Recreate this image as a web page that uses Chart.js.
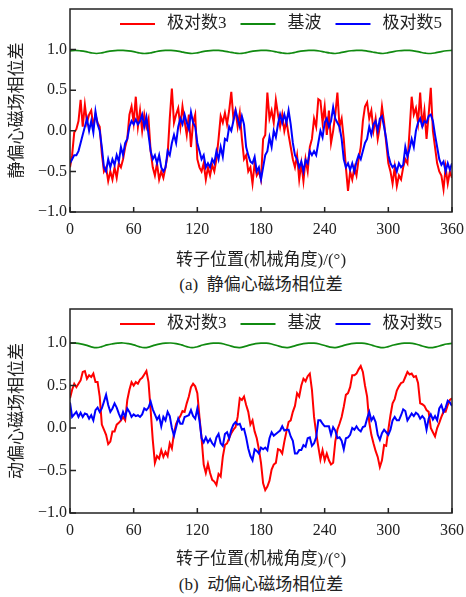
<!DOCTYPE html>
<html>
<head>
<meta charset="utf-8">
<script src="https://cdn.jsdelivr.net/npm/chart.js@4.4.1/dist/chart.umd.min.js"></script>
<style>
  body { margin: 0; background: #fff; }
  #wrap { position: relative; width: 466px; height: 597px; }
  canvas { position: absolute; left: 0; }
  .cap {
    position: absolute; left: 70px; width: 382px; text-align: center;
    font: 17px "Liberation Serif", "Noto Sans CJK SC"; color: #222; line-height: 22px;
  }
</style>
</head>
<body>
<div id="wrap">
  <canvas id="chartA" width="466" height="270" style="top:0"></canvas>
  <div class="cap" style="top:274px">(a)&nbsp; 静偏心磁场相位差</div>
  <canvas id="chartB" width="466" height="272" style="top:299px"></canvas>
  <div class="cap" style="top:574px">(b)&nbsp; 动偏心磁场相位差</div>
</div>
<script>
// rotor angle grids (deg): harmonics sampled every 2°, fundamental every 5°
const angles = [];
for (let a = 0; a <= 360; a += 2) angles.push(a);
const fundAngles = [];
for (let a = 0; a <= 360; a += 5) fundAngles.push(a);

const xTicks = [0, 60, 120, 180, 240, 300, 360];
const yTicks = [-1.0, -0.5, 0.0, 0.5, 1.0];
const seriesNames = ['极对数3', '基波', '极对数5'];

// (a) static eccentricity
const staticPole3 = [
  -0.45, -0.3, -0.02, 0.02, 0.12, 0.38, 0.05, 0.32, 0.1, 0.2,
  0.25, 0.05, 0.2, 0.1, 0.05, -0.28, -0.5, -0.45, -0.62, -0.5,
  -0.6, -0.45, -0.58, -0.4, -0.45, -0.35, -0.2, -0.1, 0.2, 0.3,
  0.1, 0.42, 0.05, 0.25, 0.0, 0.2, 0.05, 0.15, -0.25, -0.45,
  -0.55, -0.4, -0.6, -0.5, -0.58, -0.45, -0.3, 0.15, 0.52, 0.1,
  0.2, 0.28, 0.05, 0.3, 0.12, -0.05, 0.2, -0.2, 0.1, 0.2,
  -0.35, -0.45, -0.5, -0.4, -0.6, -0.45, -0.55, -0.42, -0.5, -0.35,
  -0.1, 0.18, 0.1, 0.22, 0.08, 0.25, 0.48, 0.15, 0.25, 0.05,
  0.22, -0.1, -0.35, -0.3, -0.5, -0.45, -0.65, -0.4, -0.55, -0.5,
  -0.6, -0.1, -0.05, 0.47, 0.15, 0.25, 0.1, 0.38, 0.2, 0.05,
  0.2, 0.0, 0.12, -0.05, -0.2, -0.35, -0.45, -0.3, -0.6, -0.4,
  -0.62, -0.35, -0.5, -0.2, -0.1, 0.15, 0.05, 0.39, 0.37, 0.1,
  0.3, -0.05, 0.25, -0.15, 0.0, 0.2, 0.47, 0.05, 0.15, -0.1,
  -0.45, -0.74, -0.5, -0.6, -0.45, -0.55, -0.35, -0.2, 0.12, 0.3,
  0.35, 0.15, 0.25, 0.0, 0.15, -0.1, 0.05, 0.3, 0.1, -0.15,
  -0.4, -0.5, -0.65, -0.45, -0.68, -0.55, -0.6, -0.45, -0.35, -0.4,
  0.0, 0.42, 0.2, 0.28, 0.1, 0.47, 0.05, 0.25, -0.1, 0.2,
  0.53, 0.0, -0.2, -0.4, -0.5, -0.55, -0.72, -0.45, -0.65, -0.5,
  -0.58
];
const staticFund = [
  0.985, 0.99, 0.985, 0.975, 0.96, 0.952, 0.96, 0.975, 0.985, 0.99,
  0.99, 0.985, 0.975, 0.96, 0.952, 0.958, 0.972, 0.985, 0.99, 0.99,
  0.985, 0.972, 0.96, 0.952, 0.96, 0.975, 0.985, 0.99, 0.99, 0.982,
  0.97, 0.958, 0.952, 0.96, 0.975, 0.985, 0.99, 0.99, 0.983, 0.97,
  0.958, 0.952, 0.96, 0.975, 0.985, 0.99, 0.99, 0.983, 0.97, 0.958,
  0.952, 0.962, 0.976, 0.986, 0.99, 0.99, 0.982, 0.97, 0.958, 0.952,
  0.962, 0.976, 0.986, 0.99, 0.99, 0.982, 0.968, 0.956, 0.952, 0.962,
  0.976, 0.986, 0.99
];
const staticPole5 = [
  -0.4, -0.35, -0.3, -0.3, -0.25, -0.15, -0.05, 0.05, 0.15, 0.0,
  0.12, -0.02, 0.24, 0.08, 0.0, -0.2, -0.45, -0.5, -0.35, -0.45,
  -0.35, -0.42, -0.3, -0.38, -0.2, -0.3, -0.15, -0.1, 0.05, 0.12,
  0.08, 0.14, 0.08, 0.12, 0.2, 0.05, 0.17, -0.05, -0.25, -0.35,
  -0.3, -0.4, -0.3, -0.45, -0.5, -0.45, -0.25, -0.3, -0.15, -0.05,
  -0.15, 0.05, 0.15, 0.08, 0.2, 0.1, 0.02, 0.23, 0.1, 0.05,
  -0.15, -0.25, -0.35, -0.3, -0.45, -0.4, -0.45, -0.35, -0.4, -0.25,
  -0.35, -0.2, -0.32, -0.1, -0.12, 0.05, 0.0, 0.12, 0.25, 0.15,
  0.05, 0.18, 0.08, -0.2, -0.3, -0.38, -0.4, -0.32, -0.5, -0.45,
  -0.6, -0.45, -0.3, -0.25, -0.08, -0.2, 0.0, -0.08, 0.08, 0.2,
  0.1, 0.2, 0.1, 0.25, 0.08, -0.15, -0.3, -0.35, -0.45, -0.38,
  -0.5, -0.36, -0.4, -0.25, -0.3, -0.25, -0.3, -0.15, 0.0, -0.08,
  0.1, 0.15, 0.05, 0.12, 0.29, 0.15, 0.1, 0.05, -0.1, -0.35,
  -0.45, -0.4, -0.48, -0.4, -0.5, -0.38, -0.3, -0.35, -0.25, -0.15,
  -0.1, 0.05, -0.05, 0.08, 0.12, 0.0, 0.15, 0.18, 0.05, -0.1,
  -0.3, -0.4, -0.45, -0.42, -0.5, -0.4, -0.45, -0.42, -0.2, -0.32,
  -0.22, -0.1, -0.2, 0.0, 0.1, 0.15, 0.05, 0.12, 0.1, 0.18,
  0.2, 0.12, -0.05, -0.2, -0.35, -0.42, -0.38, -0.5, -0.4, -0.48,
  -0.4
];

// (b) dynamic eccentricity
const dynamicPole3 = [
  0.35, 0.45, 0.52, 0.48, 0.52, 0.56, 0.66, 0.67, 0.58, 0.62,
  0.6, 0.64, 0.54, 0.54, 0.37, 0.04, -0.02, -0.08, -0.19, -0.16,
  -0.04, -0.04, 0.04, 0.06, 0.09, 0.13, 0.09, 0.33, 0.45, 0.54,
  0.5, 0.54, 0.52, 0.57, 0.59, 0.63, 0.67, 0.54, 0.21, -0.14,
  -0.41, -0.33, -0.36, -0.26, -0.34, -0.28, -0.33, -0.18, -0.24, -0.06,
  0.05, 0.1, 0.14, 0.2, 0.19, 0.29, 0.37, 0.48, 0.52, 0.49,
  0.41, 0.13, -0.12, -0.43, -0.53, -0.42, -0.53, -0.61, -0.63, -0.67,
  -0.54, -0.57, -0.34, -0.2, -0.18, -0.12, -0.06, -0.02, 0.01, 0.13,
  0.35, 0.33, 0.37, 0.27, 0.19, 0.04, 0.09, -0.04, -0.12, -0.25,
  -0.41, -0.65, -0.73, -0.69, -0.62, -0.49, -0.43, -0.41, -0.25, -0.26,
  -0.3, -0.16, -0.04, 0.07, 0.09, 0.19, 0.26, 0.41, 0.37, 0.5,
  0.58, 0.55, 0.61, 0.64, 0.45, 0.13, -0.06, -0.22, -0.37, -0.26,
  -0.38, -0.3, -0.38, -0.43, -0.41, -0.16, -0.02, 0.05, 0.13, 0.25,
  0.39, 0.41, 0.48, 0.62, 0.62, 0.64, 0.69, 0.73, 0.66, 0.5,
  0.37, 0.07, -0.08, -0.18, -0.27, -0.34, -0.46, -0.38, -0.2, -0.21,
  -0.02, 0.15, 0.29, 0.34, 0.44, 0.49, 0.53, 0.54, 0.6, 0.66,
  0.63, 0.64, 0.6, 0.61, 0.53, 0.29, 0.28, 0.26, 0.21, 0.19,
  0.0, -0.05, -0.1, 0.0, 0.06, 0.13, 0.19, 0.19, 0.27, 0.33,
  0.35
];
const dynamicFund = [
  1.0, 0.998, 0.99, 0.975, 0.955, 0.945, 0.958, 0.978, 0.99, 0.998,
  1.0, 0.992, 0.978, 0.958, 0.945, 0.955, 0.975, 0.99, 0.998, 1.0,
  0.993, 0.978, 0.958, 0.945, 0.956, 0.976, 0.99, 0.998, 0.998, 0.988,
  0.97, 0.952, 0.946, 0.96, 0.978, 0.992, 0.998, 0.998, 0.988, 0.97,
  0.952, 0.946, 0.96, 0.978, 0.992, 0.998, 0.998, 0.988, 0.97, 0.952,
  0.946, 0.96, 0.978, 0.992, 0.998, 0.998, 0.99, 0.972, 0.954, 0.945,
  0.958, 0.976, 0.99, 0.998, 0.998, 0.99, 0.972, 0.954, 0.945, 0.955,
  0.972, 0.988, 0.995
];
const dynamicPole5 = [
  0.3, 0.13, 0.16, 0.19, 0.13, 0.18, 0.13, 0.17, 0.16, 0.11,
  0.15, 0.09, 0.21, 0.24, 0.19, 0.23, 0.31, 0.39, 0.27, 0.19,
  0.23, 0.29, 0.24, 0.17, 0.11, 0.19, 0.13, 0.23, 0.19, 0.13,
  0.16, 0.14, 0.15, 0.13, 0.16, 0.23, 0.21, 0.24, 0.31, 0.22,
  0.16, 0.1, 0.14, 0.02, 0.13, 0.09, 0.19, 0.14, 0.0, -0.09,
  0.01, 0.11, 0.05, 0.05, 0.13, 0.14, 0.15, 0.21, 0.14, 0.11,
  0.23, 0.09, -0.12, -0.17, -0.11, -0.17, -0.13, -0.18, -0.21, -0.11,
  -0.07, -0.18, -0.21, -0.07, -0.05, -0.12, -0.02, 0.04, 0.07, 0.04,
  0.05, -0.02, -0.01, -0.11, -0.24, -0.33, -0.38, -0.25, -0.27, -0.3,
  -0.23, -0.25, -0.23, -0.26, -0.12, -0.05, -0.09, -0.07, -0.05, -0.03,
  0.02, -0.03, -0.02, -0.02, -0.1, -0.15, -0.3, -0.3, -0.26, -0.26,
  -0.2, -0.22, -0.12, -0.11, -0.21, -0.18, -0.11, 0.09, 0.09, 0.05,
  0.02, 0.02, 0.02, -0.08, 0.01, -0.03, -0.12, -0.11, -0.15, -0.25,
  -0.12, -0.11, -0.08, 0.0, -0.02, 0.02, -0.02, -0.04, 0.01, 0.02,
  0.11, 0.19, 0.09, 0.13, 0.07, -0.08, -0.14, -0.06, -0.02, -0.05,
  -0.08, -0.02, 0.09, 0.13, 0.09, 0.09, 0.15, 0.22, 0.2, 0.09,
  0.13, 0.17, 0.14, 0.18, 0.16, 0.11, 0.14, 0.11, -0.02, 0.11,
  0.16, 0.1, 0.14, 0.09, 0.23, 0.27, 0.19, 0.24, 0.32, 0.3,
  0.26
];

const FONT_FAMILY = '"Liberation Serif", "Noto Sans CJK SC"';
const TEXT = '#222';

function pts(xs, ys) {
  return ys.map((v, i) => ({ x: xs[i], y: v }));
}

// box frame + inward tick marks
const frameTicks = {
  id: 'frameTicks',
  afterDatasetsDraw(chart) {
    const { ctx, chartArea: a, scales: { x, y } } = chart;
    ctx.save();
    ctx.strokeStyle = '#222';
    ctx.lineWidth = 1.5;
    ctx.strokeRect(a.left, a.top, a.right - a.left, a.bottom - a.top);
    ctx.beginPath();
    x.ticks.forEach(t => {
      const px = x.getPixelForValue(t.value);
      ctx.moveTo(px, a.bottom);
      ctx.lineTo(px, a.bottom - 5);
    });
    y.ticks.forEach(t => {
      const py = y.getPixelForValue(t.value);
      ctx.moveTo(a.left, py);
      ctx.lineTo(a.left + 6, py);
    });
    ctx.stroke();
    ctx.restore();
  }
};

// legend drawn in a single row inside the plot, near the top
const innerLegend = {
  id: 'innerLegend',
  afterDraw(chart) {
    const { ctx, chartArea: a } = chart;
    let x = a.left + 50;
    const y = a.top + 15;
    ctx.save();
    ctx.font = '17px ' + FONT_FAMILY;
    ctx.textBaseline = 'middle';
    chart.data.datasets.forEach(ds => {
      ctx.strokeStyle = ds.borderColor;
      ctx.lineWidth = 2;
      ctx.beginPath();
      ctx.moveTo(x, y);
      ctx.lineTo(x + 35, y);
      ctx.stroke();
      ctx.fillStyle = TEXT;
      ctx.fillText(ds.label, x + 47, y);
      x += 47 + ctx.measureText(ds.label).width + 14;
    });
    ctx.restore();
  }
};

function makeChart(id, pole3, fund, pole5, yMax, yTitle, topPad, titleGap) {
  return new Chart(document.getElementById(id), {
    type: 'line',
    data: {
      datasets: [
        { label: seriesNames[0], data: pts(angles, pole3), borderColor: '#ff0000', borderWidth: 2, order: 2 },
        { label: seriesNames[1], data: pts(fundAngles, fund), borderColor: '#108a10', borderWidth: 1.7, tension: 0.4, order: 1 },
        { label: seriesNames[2], data: pts(angles, pole5), borderColor: '#0000ff', borderWidth: 2, order: 0 }
      ]
    },
    options: {
      responsive: false,
      animation: false,
      devicePixelRatio: 1,
      layout: { padding: { top: topPad, right: 14, left: 0, bottom: 0 } },
      elements: { point: { radius: 0 } },
      plugins: { legend: { display: false }, tooltip: { enabled: false } },
      scales: {
        x: {
          type: 'linear', min: 0, max: 360,
          afterBuildTicks: s => { s.ticks = xTicks.map(v => ({ value: v })); },
          afterFit: s => { s.height = 58; s.paddingLeft = 0; s.paddingRight = 0; },
          grid: { display: false, drawTicks: false },
          border: { display: false },
          ticks: { padding: 8, color: TEXT, maxRotation: 0, autoSkip: false, font: { family: FONT_FAMILY, size: 16 } },
          title: {
            display: true, text: '转子位置(机械角度)/(°)', color: TEXT,
            font: { family: FONT_FAMILY, size: 17 }, padding: { top: 0, bottom: titleGap }
          }
        },
        y: {
          type: 'linear', min: -1, max: yMax,
          afterBuildTicks: s => { s.ticks = yTicks.map(v => ({ value: v })); },
          afterFit: s => { s.width = 70; s.paddingTop = 0; s.paddingBottom = 0; },
          grid: { display: false, drawTicks: false },
          border: { display: false },
          ticks: {
            padding: 3, color: TEXT, font: { family: FONT_FAMILY, size: 16 },
            callback: v => v.toFixed(1).replace('-', '\u2212')
          },
          title: {
            display: true, text: yTitle, color: TEXT,
            font: { family: FONT_FAMILY, size: 17 }, padding: { top: 7, bottom: 0 }
          }
        }
      }
    },
    plugins: [frameTicks, innerLegend]
  });
}

makeChart('chartA', staticPole3, staticFund, staticPole5, 1.5, '静偏心磁场相位差', 9, -1);
makeChart('chartB', dynamicPole3, dynamicFund, dynamicPole5, 1.4, '动偏心磁场相位差', 10, 1);
</script>
</body>
</html>
